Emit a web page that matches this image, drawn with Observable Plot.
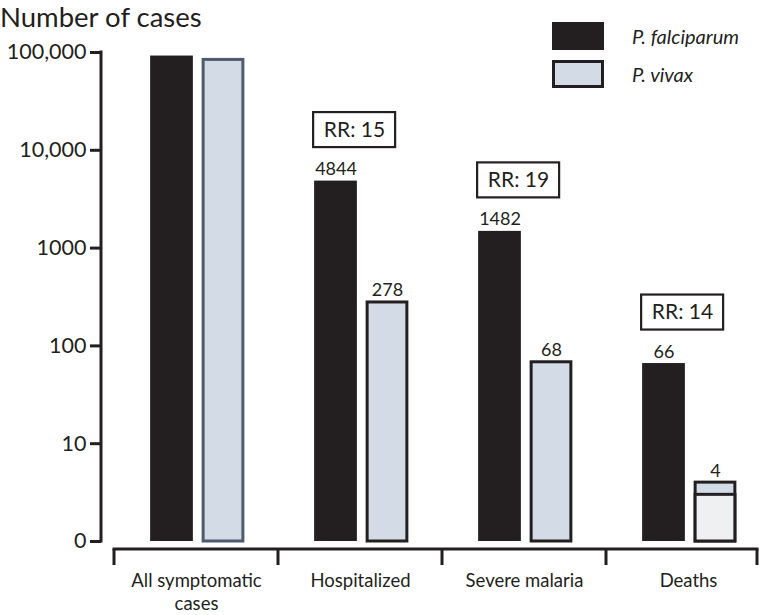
<!DOCTYPE html>
<html>
<head>
<meta charset="utf-8">
<script src="https://cdn.jsdelivr.net/npm/d3@7"></script>
<script src="https://cdn.jsdelivr.net/npm/@observablehq/plot@0.6"></script>
<style>
  html, body { margin: 0; padding: 0; background: #fff; }
  #wrap { position: relative; width: 760px; height: 615px; font-family: Lato, "Open Sans", sans-serif; color: #231f20; }
  #title { position: absolute; left: 0; top: 3px; font-size: 27.5px; line-height: 1; white-space: nowrap; z-index: 2; }
  .leg { position: absolute; left: 552px; width: 52px; height: 28px; box-sizing: border-box; z-index: 2; }
  .legt { position: absolute; left: 632px; font-size: 20px; font-style: italic; line-height: 1; z-index: 2; white-space: nowrap; }
  #chart { position: absolute; left: 0; top: 0; }
</style>
</head>
<body>
<div id="wrap">
  <div id="title">Number of cases</div>
  <div class="leg" style="top:22px; background:#231f20;"></div>
  <div class="legt" id="l0" style="top:26px;"></div>
  <div class="leg" style="top:60px; background:#d3dbe6; border:3px solid #231f20;"></div>
  <div class="legt" id="l1" style="top:64px;"></div>
  <div id="chart"></div>
</div>
<script>
// ---- data ----
const categories = ["All symptomatic cases", "Hospitalized", "Severe malaria", "Deaths"];
const categoryLabels = ["All symptomatic\ncases", "Hospitalized", "Severe malaria", "Deaths"];
const seriesNames = ["P. falciparum", "P. vivax"];
const falciparum = [92000, 4844, 1482, 66];
const vivax = [84000, 278, 68, 4];
const vivaxLowerSegment = [null, null, null, 3];
const falciparumLabels = [null, "4844", "1482", "66"];
const vivaxLabels = [null, "278", "68", "4"];
const riskRatio = [null, 15, 19, 14];
const yTicks = [1, 10, 100, 1000, 10000, 100000];
const yTickLabels = ["0", "10", "100", "1000", "10,000", "100,000"];

document.getElementById("l0").textContent = seriesNames[0];
document.getElementById("l1").textContent = seriesNames[1];

// ---- tables ----
const table = categories.map((c, i) => ({
  cat: c, falc: falciparum[i], viv: vivax[i], lower: vivaxLowerSegment[i],
  fl: falciparumLabels[i], vl: vivaxLabels[i], rr: riskRatio[i]
}));

const W = 760, H = 615;
const xRange = [113, 770];
const step = (xRange[1] - xRange[0]) / categories.length;
const half = step / 2;
const blackL = half - 46, blackR = half + 3;
const vivL = half + 7, vivR = half - 47;
const blackC = -half + (blackL + (step - blackR)) / 2;
const vivC = -half + (vivL + (step - vivR)) / 2;
const ink = "#231f20";

function axesLines(index, scales, values, dims) {
  const x = scales.x, y = scales.y;
  const g = d3.create("svg:g").attr("stroke", ink).attr("fill", "none").attr("stroke-width", 3);
  const yBase = y(yTicks[0]);
  g.append("line").attr("x1", dims.marginLeft).attr("x2", dims.marginLeft)
    .attr("y1", y(yTicks[yTicks.length - 1]) - 1.5).attr("y2", yBase + 1.5);
  const xa = yBase + 8;
  const starts = categories.map(c => x(c));
  const endX = dims.width - 3;
  g.append("line").attr("x1", starts[0] - 1.5).attr("x2", endX + 1.5).attr("y1", xa).attr("y2", xa);
  [...starts, endX].forEach(px => g.append("line").attr("x1", px).attr("x2", px).attr("y1", xa).attr("y2", xa + 16));
  return g.node();
}

function rrBoxes(index, scales, values, dims) {
  const x = scales.x, y = scales.y;
  const g = d3.create("svg:g").attr("stroke", ink).attr("fill", "white").attr("stroke-width", 2.2);
  table.filter(d => d.rr != null).forEach(d => {
    const cx = x(d.cat) + half - 6;
    const cy = y(d.falc) - 51;
    g.append("rect").attr("x", cx - 41).attr("y", cy - 17.5).attr("width", 82).attr("height", 35);
  });
  return g.node();
}

const chart = Plot.plot({
  width: W,
  height: H,
  marginTop: 52,
  marginBottom: 74,
  marginLeft: 101,
  marginRight: 3,
  style: { fontFamily: "Lato, 'Open Sans', sans-serif", color: ink, background: "transparent", overflow: "visible" },
  x: { type: "band", domain: categories, range: xRange, paddingInner: 0, paddingOuter: 0, axis: null },
  y: { type: "log", domain: [1, 100000] },
  marks: [
    Plot.barY(table, { x: "cat", y1: 1, y2: "falc", fill: ink, insetLeft: blackL, insetRight: blackR }),
    Plot.barY(table, { x: "cat", y1: 1, y2: "viv", fill: "#d3dbe6",
      stroke: (d, i) => i === 0 ? "#4f5a6e" : ink, strokeWidth: 3, insetLeft: vivL, insetRight: vivR }),
    Plot.barY(table.filter(d => d.lower != null), { x: "cat", y1: 1, y2: "lower", fill: "#eff0f2",
      stroke: ink, strokeWidth: 3, insetLeft: vivL, insetRight: vivR }),
    Plot.axisY({ ticks: yTicks, tickFormat: d => yTickLabels[yTicks.indexOf(d)], tickSize: 11,
      tickPadding: 4, fontSize: 21.5, strokeWidth: 3, label: null }),
    axesLines,
    rrBoxes,
    Plot.text(table.filter(d => d.rr != null), { x: "cat", y: "falc", text: d => `RR: ${d.rr}`,
      dx: -6, dy: -51, fontSize: 21, fill: ink }),
    Plot.text(table.filter(d => d.fl != null), { x: "cat", y: "falc", text: "fl", dx: blackC, dy: -6,
      lineAnchor: "bottom", fontSize: 18, fill: ink }),
    Plot.text(table.filter(d => d.vl != null), { x: "cat", y: "viv", text: "vl", dx: vivC, dy: -6,
      lineAnchor: "bottom", fontSize: 18, fill: ink }),
    Plot.text(table, { x: "cat", text: (d, i) => categoryLabels[i], frameAnchor: "bottom",
      lineAnchor: "top", dy: 29, fontSize: 18.5, lineHeight: 1.25, fill: ink })
  ]
});
document.getElementById("chart").appendChild(chart);
</script>
</body>
</html>
